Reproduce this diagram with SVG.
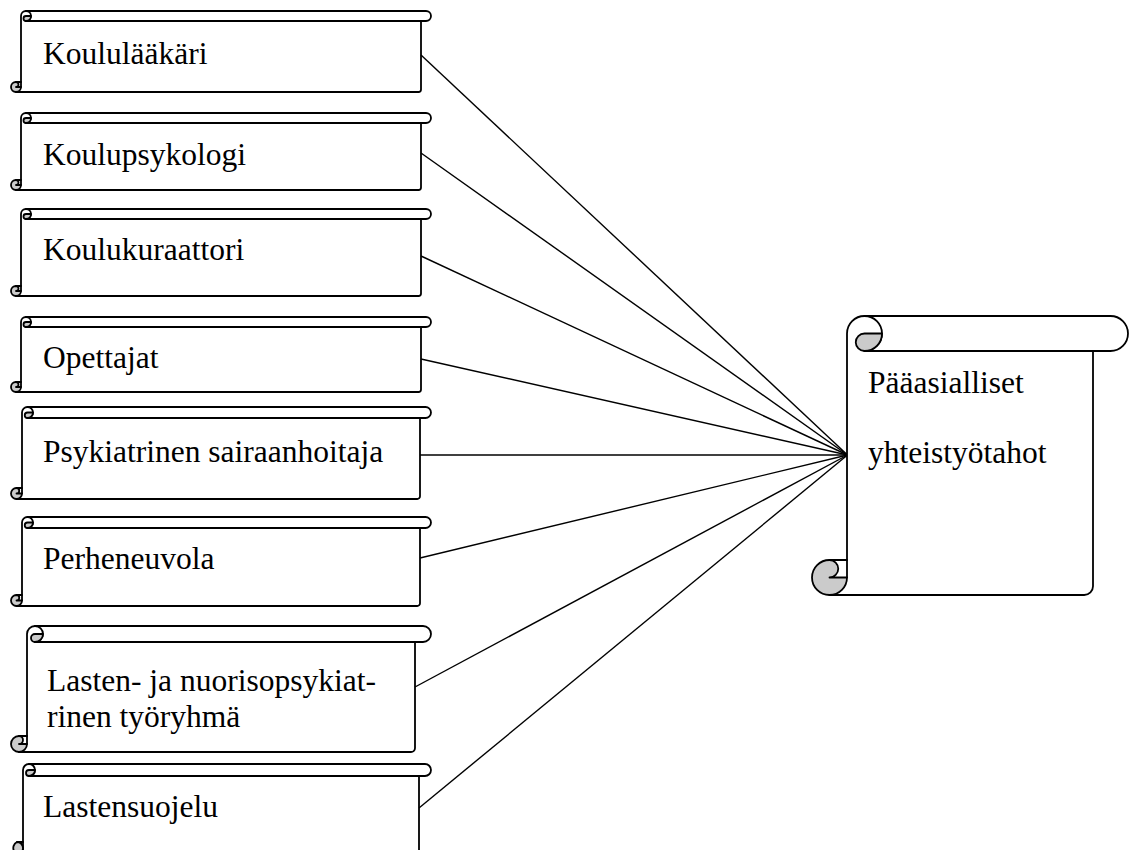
<svg xmlns="http://www.w3.org/2000/svg" width="1129" height="850" viewBox="0 0 1129 850">
<style>
.o{fill:none;stroke:#000;stroke-width:1.8;stroke-linejoin:round;stroke-linecap:round}
.g{fill:#cbcbcb;stroke:#000;stroke-width:1.8;stroke-linejoin:round}
.bg{fill:#fff;stroke:none}
.c{stroke:#000;stroke-width:1.4;fill:none}
.t{font-family:"Liberation Serif","Times New Roman",serif;font-size:31.5px;fill:#000}
</style>
<rect width="1129" height="850" fill="#fff"/>
<g id="connectors">
<line class="c" x1="421" y1="55" x2="847.5" y2="455"/>
<line class="c" x1="421" y1="153" x2="847.5" y2="455"/>
<line class="c" x1="421" y1="256" x2="847.5" y2="455"/>
<line class="c" x1="421" y1="359" x2="847.5" y2="455"/>
<line class="c" x1="420" y1="455" x2="847.5" y2="455"/>
<line class="c" x1="420" y1="558" x2="847.5" y2="455"/>
<line class="c" x1="415" y1="687" x2="847.5" y2="455"/>
<line class="c" x1="419" y1="808" x2="847.5" y2="455"/>
</g>
<g id="node-koululaakari" transform="translate(11,11)">
<path class="o" d="M10,76 L10,5 A5 5 0 0 1 15,0 L415,0 A5 5 0 0 1 415,10 L15,10"/>
<path class="o" d="M15,0 A5 5 0 0 1 20,5 A5 5 0 0 1 15,10"/>
<path class="g" d="M15,5 L20,5 A5 5 0 0 1 15,10 A2.5 2.5 0 0 1 15,5 Z"/>
<path class="o" d="M410,10 L410,78.5 A2.5 2.5 0 0 1 407.5,81 L5,81"/>
<path class="g" d="M5,71 A2.5 2.5 0 0 1 5,76 L10,76 A5 5 0 1 1 5,71 Z"/>
<path class="o" d="M5,71 L10,71"/>
<text class="t" x="32" y="53">Koululääkäri</text>
</g>
<g id="node-koulupsykologi" transform="translate(11,113)">
<path class="o" d="M10,72 L10,5 A5 5 0 0 1 15,0 L415,0 A5 5 0 0 1 415,10 L15,10"/>
<path class="o" d="M15,0 A5 5 0 0 1 20,5 A5 5 0 0 1 15,10"/>
<path class="g" d="M15,5 L20,5 A5 5 0 0 1 15,10 A2.5 2.5 0 0 1 15,5 Z"/>
<path class="o" d="M410,10 L410,74.5 A2.5 2.5 0 0 1 407.5,77 L5,77"/>
<path class="g" d="M5,67 A2.5 2.5 0 0 1 5,72 L10,72 A5 5 0 1 1 5,67 Z"/>
<path class="o" d="M5,67 L10,67"/>
<text class="t" x="32" y="52">Koulupsykologi</text>
</g>
<g id="node-koulukuraattori" transform="translate(11,209)">
<path class="o" d="M10,82 L10,5 A5 5 0 0 1 15,0 L415,0 A5 5 0 0 1 415,10 L15,10"/>
<path class="o" d="M15,0 A5 5 0 0 1 20,5 A5 5 0 0 1 15,10"/>
<path class="g" d="M15,5 L20,5 A5 5 0 0 1 15,10 A2.5 2.5 0 0 1 15,5 Z"/>
<path class="o" d="M410,10 L410,84.5 A2.5 2.5 0 0 1 407.5,87 L5,87"/>
<path class="g" d="M5,77 A2.5 2.5 0 0 1 5,82 L10,82 A5 5 0 1 1 5,77 Z"/>
<path class="o" d="M5,77 L10,77"/>
<text class="t" x="32" y="51">Koulukuraattori</text>
</g>
<g id="node-opettajat" transform="translate(11,317)">
<path class="o" d="M10,70 L10,5 A5 5 0 0 1 15,0 L415,0 A5 5 0 0 1 415,10 L15,10"/>
<path class="o" d="M15,0 A5 5 0 0 1 20,5 A5 5 0 0 1 15,10"/>
<path class="g" d="M15,5 L20,5 A5 5 0 0 1 15,10 A2.5 2.5 0 0 1 15,5 Z"/>
<path class="o" d="M410,10 L410,72.5 A2.5 2.5 0 0 1 407.5,75 L5,75"/>
<path class="g" d="M5,65 A2.5 2.5 0 0 1 5,70 L10,70 A5 5 0 1 1 5,65 Z"/>
<path class="o" d="M5,65 L10,65"/>
<text class="t" x="32" y="51">Opettajat</text>
</g>
<g id="node-psykiatrinen" transform="translate(11,407)">
<path class="o" d="M11,86.5 L11,5.5 A5.5 5.5 0 0 1 16.5,0 L414.5,0 A5.5 5.5 0 0 1 414.5,11 L16.5,11"/>
<path class="o" d="M16.5,0 A5.5 5.5 0 0 1 22,5.5 A5.5 5.5 0 0 1 16.5,11"/>
<path class="g" d="M16.5,5.5 L22,5.5 A5.5 5.5 0 0 1 16.5,11 A2.75 2.75 0 0 1 16.5,5.5 Z"/>
<path class="o" d="M409,11 L409,89.25 A2.75 2.75 0 0 1 406.25,92 L5.5,92"/>
<path class="g" d="M5.5,81 A2.75 2.75 0 0 1 5.5,86.5 L11,86.5 A5.5 5.5 0 1 1 5.5,81 Z"/>
<path class="o" d="M5.5,81 L11,81"/>
<text class="t" x="32" y="55">Psykiatrinen sairaanhoitaja</text>
</g>
<g id="node-perheneuvola" transform="translate(11,517)">
<path class="o" d="M11,83.5 L11,5.5 A5.5 5.5 0 0 1 16.5,0 L414.5,0 A5.5 5.5 0 0 1 414.5,11 L16.5,11"/>
<path class="o" d="M16.5,0 A5.5 5.5 0 0 1 22,5.5 A5.5 5.5 0 0 1 16.5,11"/>
<path class="g" d="M16.5,5.5 L22,5.5 A5.5 5.5 0 0 1 16.5,11 A2.75 2.75 0 0 1 16.5,5.5 Z"/>
<path class="o" d="M409,11 L409,86.25 A2.75 2.75 0 0 1 406.25,89 L5.5,89"/>
<path class="g" d="M5.5,78 A2.75 2.75 0 0 1 5.5,83.5 L11,83.5 A5.5 5.5 0 1 1 5.5,78 Z"/>
<path class="o" d="M5.5,78 L11,78"/>
<text class="t" x="32" y="52">Perheneuvola</text>
</g>
<g id="node-lasten-nuoriso" transform="translate(11,626)">
<path class="o" d="M16,118 L16,8 A8 8 0 0 1 24,0 L412,0 A8 8 0 0 1 412,16 L24,16"/>
<path class="o" d="M24,0 A8 8 0 0 1 32,8 A8 8 0 0 1 24,16"/>
<path class="g" d="M24,8 L32,8 A8 8 0 0 1 24,16 A4 4 0 0 1 24,8 Z"/>
<path class="o" d="M404,16 L404,122 A4 4 0 0 1 400,126 L8,126"/>
<path class="g" d="M8,110 A4 4 0 0 1 8,118 L16,118 A8 8 0 1 1 8,110 Z"/>
<path class="o" d="M8,110 L16,110"/>
<text class="t" x="36" y="65">Lasten- ja nuorisopsykiat-</text>
<text class="t" x="36" y="101">rinen työryhmä</text>
</g>
<g id="node-lastensuojelu" transform="translate(11,764)">
<path class="o" d="M12,90 L12,6 A6 6 0 0 1 18,0 L414,0 A6 6 0 0 1 414,12 L18,12"/>
<path class="o" d="M18,0 A6 6 0 0 1 24,6 A6 6 0 0 1 18,12"/>
<path class="g" d="M18,6 L24,6 A6 6 0 0 1 18,12 A3 3 0 0 1 18,6 Z"/>
<path class="o" d="M408,12 L408,93 A3 3 0 0 1 405,96 L6,96"/>
<path class="g" d="M6,78 A3 3 0 0 1 6,90 L12,90 A6 6 0 1 1 6,78 Z"/>
<path class="o" d="M6,78 L12,78"/>
<text class="t" x="32" y="53">Lastensuojelu</text>
</g>
<g id="node-paaasialliset" transform="translate(812,316)">
<path class="bg" d="M35,17.5 L298.5,0 L298.5,35 L281,35 L281,279 L35,279 Z"/>
<path class="o" d="M35,261.5 L35,17.5 A17.5 17.5 0 0 1 52.5,0 L298.5,0 A17.5 17.5 0 0 1 298.5,35 L52.5,35"/>
<path class="o" d="M52.5,0 A17.5 17.5 0 0 1 70,17.5 A17.5 17.5 0 0 1 52.5,35"/>
<path class="g" d="M52.5,17.5 L70,17.5 A17.5 17.5 0 0 1 52.5,35 A8.75 8.75 0 0 1 52.5,17.5 Z"/>
<path class="o" d="M281,35 L281,270.25 A8.75 8.75 0 0 1 272.25,279 L17.5,279"/>
<path class="g" d="M17.5,244 A8.75 8.75 0 0 1 17.5,261.5 L35,261.5 A17.5 17.5 0 1 1 17.5,244 Z"/>
<path class="o" d="M17.5,244 L35,244"/>
<text class="t" x="56" y="77">Pääasialliset</text>
<text class="t" x="56" y="147">yhteistyötahot</text>
</g>
</svg>
